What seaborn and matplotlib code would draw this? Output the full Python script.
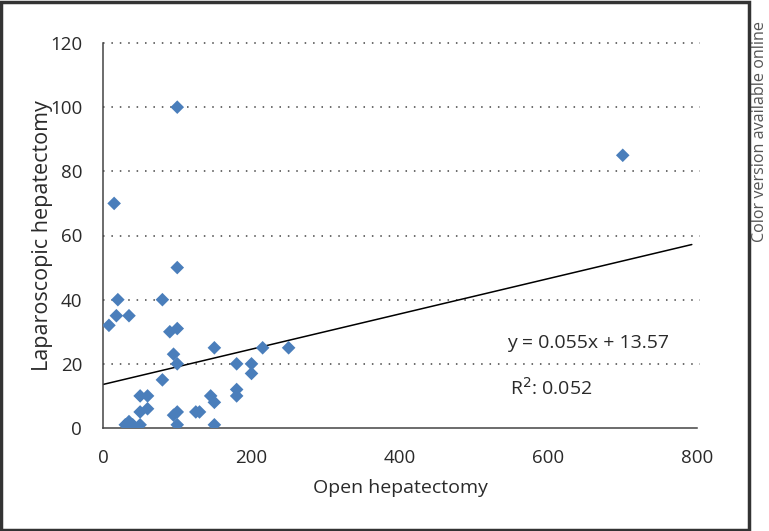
# plot.py
# Laparoscopic vs open hepatectomy scatter with linear trend

import matplotlib
matplotlib.use("Agg")
import matplotlib.pyplot as plt
from matplotlib.patches import Rectangle
import numpy as np
import pandas as pd
import seaborn as sns

# ── Data ─────────────────────────────────────────────────────────────────────
open_hep = [100, 700, 15, 100, 20, 80, 18, 35, 8, 90, 100, 95, 100, 80,
            150, 215, 250, 180, 200, 200, 180, 180, 50, 60, 50, 60,
            30, 35, 40, 50, 95, 100, 100, 125, 130, 145, 150, 150]
lap_hep = [100, 85, 70, 50, 40, 40, 35, 35, 32, 30, 31, 23, 20, 15,
           25, 25, 25, 20, 20, 17, 12, 10, 10, 10, 5, 6,
           1, 2, 1, 1, 4, 5, 1, 5, 5, 10, 8, 1]
slope, intercept = 0.055, 13.57
r2 = 0.052
line_x = [0, 793]

x_ticks = [0, 200, 400, 600, 800]
y_ticks = [0, 20, 40, 60, 80, 100, 120]

df = pd.DataFrame({"open": open_hep, "lap": lap_hep})

sns.set_style("white")
plt.rcParams["font.family"] = ["Open Sans", "DejaVu Sans"]

fig = plt.figure(figsize=(7.69, 5.31), dpi=100)
ax = fig.add_axes([103 / 769, 1 - 428 / 531, 594 / 769, 385 / 531])

# dotted horizontal grid
for yv in y_ticks[1:]:
    ax.axhline(yv, xmin=0, xmax=1.005, color="#444444", lw=1.1,
               ls=(0, (1, 4.5)), zorder=0, clip_on=False)

sns.scatterplot(data=df, x="open", y="lap", marker="D", s=48,
                color="#4a7ebb", edgecolor="none", ax=ax, zorder=3)

lx = np.array(line_x)
ax.plot(lx, slope * lx + intercept, color="black", lw=1.1, zorder=2)

ax.set_xlim(0, 800)
ax.set_ylim(0, 120)
ax.set_xticks(x_ticks)
ax.set_yticks(y_ticks)
ax.tick_params(axis="both", direction="out", length=9, width=1.1,
               color="#444444", labelsize=13.5, labelcolor="#2a2a2a", pad=6)
for side in ["top", "right"]:
    ax.spines[side].set_visible(False)
for side in ["left", "bottom"]:
    ax.spines[side].set_color("#444444")
    ax.spines[side].set_linewidth(1.1)

ax.set_xlabel("Open hepatectomy", fontsize=14, color="#2a2a2a", labelpad=9)
ax.set_ylabel("Laparoscopic hepatectomy", fontsize=15.5, color="#2a2a2a",
              labelpad=-2)

ax.text(544, 26.5, f"y = {slope}x + {intercept}", fontsize=14,
        color="#2a2a2a", va="center", ha="left")
ax.text(548, 12.5, f"R$^2$: {r2}", fontsize=14, color="#2a2a2a",
        va="center", ha="left")

# outer frame and side note
fig.patches.append(Rectangle((1 / 769, 1 / 531), 748 / 769, 528 / 531,
                             transform=fig.transFigure, fill=False,
                             edgecolor="#333333", lw=2.5))
fig.text(760.5 / 769, 1 - 242 / 531, "Color version available online",
         rotation=90, ha="center", va="bottom", fontsize=11.6,
         color="#555555")

fig.savefig("out.png", dpi=100)
